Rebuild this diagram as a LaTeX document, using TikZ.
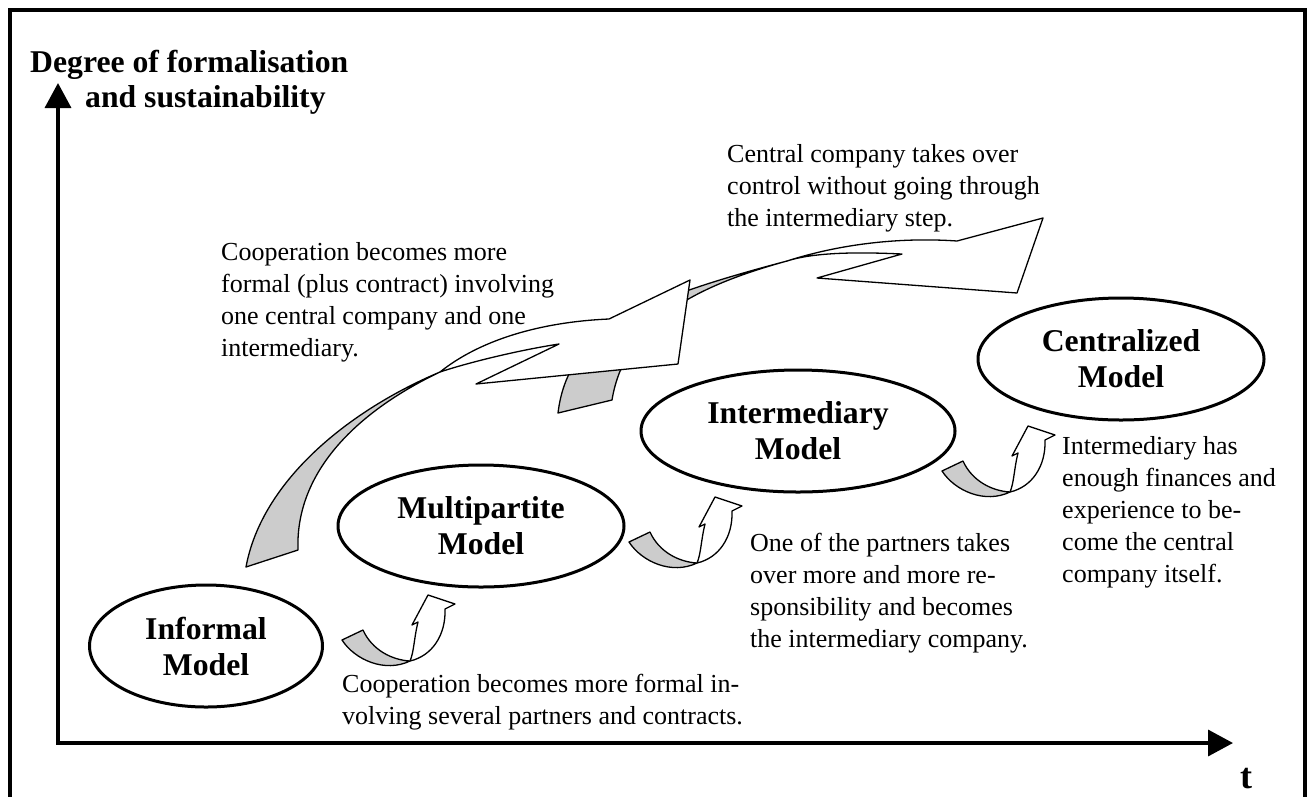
\documentclass[tikz,border=0pt]{standalone}
\usepackage{fontspec}
\setmainfont{Liberation Serif}
\usetikzlibrary{arrows.meta,shapes.geometric}
\definecolor{ribbongrey}{RGB}{204,204,204}
\begin{document}
\begin{tikzpicture}[x=1pt,y=-1pt,
  model/.style={ellipse,draw,line width=3pt,inner sep=0pt,align=center,
    font=\fontsize{31.7}{36}\selectfont\bfseries},
  % multi-line notes: the base anchor sits on the last line
  note/.style={inner sep=0pt,anchor=base west,align=left,
    font=\fontsize{26}{32}\selectfont},
  heading/.style={inner sep=0pt,align=left,
    font=\fontsize{31.7}{35}\selectfont\bfseries},
  axisline/.style={line width=3.5pt,line join=miter,
    {Triangle[length=25pt,width=26pt]}-{Triangle[length=25pt,width=26pt]}},
  ribbon/.style={draw,line width=1.3pt,line join=round},
  backside/.style={ribbon,fill=ribbongrey},
  frontside/.style={ribbon,fill=white},
  uturn/.pic={
    % shaded back of the ribbon
    \path[backside] (12,60) .. controls (25,80) and (55,93) .. (80,81)
      .. controls (62,80) and (42,70) .. (33,50) -- cycle;
    % rising front with its head
    \path[frontside] (80,81) .. controls (102,76) and (116,55) .. (115,29)
      -- (125,24) -- (98,15) -- (82,45) -- (88,42)
      .. controls (84,58) and (84,72) .. (80,81) -- cycle;
  }]
\useasboundingbox (0,0) rectangle (1311,796);

% outer frame
\draw[line width=3.3pt] (10,10) rectangle (1305,830);

% axes
\coordinate (O) at (58,743);
\coordinate (ytip) at (58,83);
\coordinate (xtip) at (1233,743);
\draw[axisline] (ytip) -- (O) -- (xtip);
\node[heading,anchor=base west] (title) at (30,107)
  {Degree of formalisation\\\hspace*{55pt}and sustainability};
\node[heading,anchor=base,font=\fontsize{36}{40}\selectfont\bfseries] (tlabel) at (1246,788) {t};

% the four models
\node[model,minimum width=233pt,minimum height=122pt] (informal) at (206,646) {Informal\\Model};
\node[model,minimum width=286pt,minimum height=122pt] (multi) at (481,526) {Multipartite\\Model};
\node[model,minimum width=314pt,minimum height=122pt] (inter) at (798,431) {Intermediary\\Model};
\node[model,minimum width=286pt,minimum height=122pt] (central) at (1121,359) {Centralized\\Model};

% small turning arrows between neighbouring models
\pic (u1) at (330,580) {uturn};
\pic (u2) at (617,482) {uturn};
\pic (u3) at (930,411) {uturn};

% long ribbon: multipartite straight to centralized (tail, partly hidden behind the other head)
\path[backside] (558,413) .. controls (568,330) and (640,300) .. (787,261)
  .. controls (700,285) and (625,320) .. (612,400) -- cycle;

% long ribbon: informal to intermediary
\path[backside] (246,567) .. controls (262,480) and (350,410) .. (440,372)
  .. controls (360,410) and (295,470) .. (298,550) -- cycle;
\path[frontside] (440,372) .. controls (480,340) and (540,322) .. (609,319)
  -- (690,280) -- (678,364) -- (476,384) -- (559,344)
  .. controls (520,350) and (470,362) .. (440,372) -- cycle;

% front and head of the ribbon to centralized
\path[frontside] (787,261) .. controls (840,244) and (900,237) .. (957,241)
  -- (1043,218) -- (1017,293) -- (817,278) -- (902,254)
  .. controls (860,252) and (815,252) .. (787,261) -- cycle;

% explanations
\node[note] (n1) at (342,724) {Cooperation becomes more formal in-\\volving several partners and contracts.};
\node[note] (n2) at (750,647) {One of the partners takes\\over more and more re-\\sponsibility and becomes\\the intermediary company.};
\node[note] (n3) at (1062,582) {Intermediary has\\enough finances and\\experience to be-\\come the central\\company itself.};
\node[note] (n4) at (221,356) {Cooperation becomes more\\formal (plus contract) involving\\one central company and one\\intermediary.};
\node[note] (n5) at (727,226) {Central company takes over\\control without going through\\the intermediary step.};
\end{tikzpicture}
\end{document}
